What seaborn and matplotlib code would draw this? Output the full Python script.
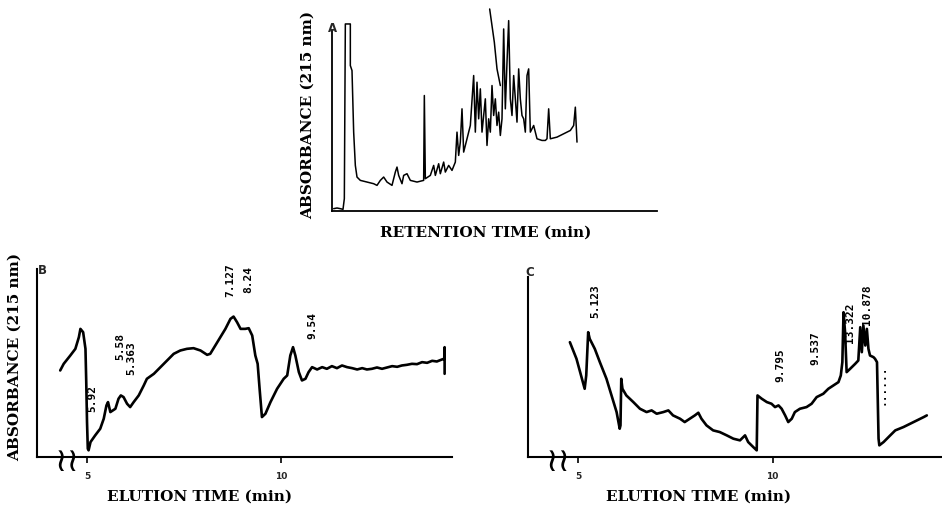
import matplotlib
matplotlib.use("Agg")
import matplotlib.pyplot as plt
import seaborn as sns
import pandas as pd

sns.set_theme(style="white")
plt.rcParams['font.family'] = ['DejaVu Serif', 'DejaVu Sans']

# ---------------- Panel A (retention time, arbitrary units) ----------------
a_x = [5, 15, 25, 33, 37, 40, 55, 55, 60, 65, 70, 75, 85, 105, 125, 135, 145, 155, 165, 180,
       190, 195, 200, 210, 215, 225, 235, 255, 275, 277, 280, 295, 305, 310, 320, 325, 335, 340,
       350, 360, 370, 375, 380, 385, 390, 395, 405, 415, 425, 430, 435, 440, 445, 450, 455, 460,
       465, 470, 475, 480, 485, 490, 495, 500, 505, 510, 515, 520, 525, 530, 535, 540, 545, 555,
       560, 565, 570, 575, 580, 585, 590, 595, 605, 615, 630, 640, 645, 650, 655, 675, 695, 715,
       725, 730, 735]
a_y = [7, 9, 7, 5, 37, 562, 562, 437, 422, 237, 137, 102, 92, 87, 82, 77, 92, 102, 87, 77,
       117, 132, 107, 82, 107, 112, 92, 87, 92, 347, 97, 107, 137, 107, 142, 112, 147, 117,
       137, 122, 147, 237, 167, 207, 307, 177, 217, 257, 407, 237, 387, 277, 367, 237, 287, 337,
       197, 277, 237, 377, 287, 337, 257, 297, 227, 277, 547, 307, 447, 572, 337, 287, 407, 267,
       427, 337, 287, 277, 237, 407, 427, 237, 257, 217, 212, 212, 217, 307, 217, 222, 232, 242,
       257, 312, 207]
a2_x = [473, 487, 495, 505]
a2_y = [607, 507, 427, 377]

# ---------------- Panel B (elution time, min) ----------------
b_t = [4.31, 4.40, 4.57, 4.70, 4.79, 4.83, 4.90, 4.96, 4.98, 5.00, 5.02, 5.04, 5.09, 5.21, 5.34,
       5.43, 5.50, 5.54, 5.60, 5.73, 5.81, 5.87, 5.94, 6.03, 6.11, 6.20, 6.33, 6.46, 6.54, 6.72,
       6.89, 7.06, 7.23, 7.40, 7.57, 7.74, 7.92, 8.09, 8.17, 8.30, 8.43, 8.56, 8.69, 8.77, 8.86,
       8.95, 9.07, 9.16, 9.25, 9.33, 9.39, 9.44, 9.50, 9.59, 9.72, 9.89, 10.06, 10.15, 10.23,
       10.30, 10.36, 10.45, 10.53, 10.62, 10.70, 10.79, 10.92, 11.05, 11.17, 11.30, 11.43, 11.56,
       11.69, 11.82, 11.95, 12.08, 12.20, 12.33, 12.46, 12.59, 12.72, 12.85, 12.98, 13.10, 13.23,
       13.36, 13.49, 13.62, 13.75, 13.88, 14.00, 14.13, 14.19, 14.20, 14.20]
b_abs = [260, 280, 305, 325, 360, 385, 375, 325, 225, 105, 25, 20, 45, 65, 85,
         115, 155, 165, 135, 145, 175, 185, 180, 160, 150, 165, 185, 215, 235, 250,
         270, 290, 310, 320, 325, 327, 320, 307, 310, 335, 360, 385, 415, 422, 405,
         385, 385, 387, 365, 305, 280, 205, 120, 130, 165, 205, 235, 245, 305,
         330, 305, 255, 230, 235, 255, 270, 263, 270, 265, 273, 267, 275,
         270, 267, 263, 267, 263, 265, 269, 265, 269, 273, 271, 275, 277,
         280, 279, 285, 283, 289, 287, 293, 295, 330, 250]
b_labels = ["5.92", "5.58", "5.363", "7.127", "8.24", "9.54"]
b_label_t = [5.13, 5.86, 6.15, 8.69, 9.16, 10.79]
b_label_y = [180, 335, 300, 533, 535, 398]

# ---------------- Panel C (elution time, min) ----------------
c_t = [4.79, 4.96, 5.17, 5.21, 5.26, 5.30, 5.43, 5.56, 5.73, 5.86, 5.99, 6.07, 6.09, 6.11, 6.14,
       6.24, 6.42, 6.59, 6.76, 6.89, 7.02, 7.19, 7.32, 7.44, 7.62, 7.74, 7.87, 8.00, 8.09, 8.17,
       8.30, 8.47, 8.64, 8.82, 8.99, 9.16, 9.29, 9.37, 9.50, 9.59, 9.61, 9.72, 9.85, 9.97, 10.06,
       10.15, 10.23, 10.32, 10.40, 10.49, 10.57, 10.70, 10.87, 11.00, 11.13, 11.30, 11.43, 11.56,
       11.69, 11.75, 11.79, 11.82, 11.86, 11.90, 11.99, 12.12, 12.20, 12.25, 12.29, 12.33, 12.38,
       12.42, 12.46, 12.50, 12.59, 12.63, 12.68, 12.72, 12.74, 12.85, 13.02, 13.15, 13.36, 13.62,
       13.88, 13.96]
c_abs = [345, 295, 205, 245, 375, 355, 325, 285, 235, 185, 135, 85, 95, 235, 205,
         185, 165, 145, 135, 140, 130, 135, 140, 125, 115, 105, 115, 125, 133, 115,
         95, 80, 75, 65, 55, 50, 65, 45, 30, 20, 185, 175, 165, 160, 150,
         155, 145, 125, 105, 115, 135, 145, 150, 160, 180, 190, 205, 215,
         225, 245, 285, 435, 375, 255, 265, 280, 290, 390, 315, 395, 335,
         385, 325, 305, 300, 295, 285, 55, 35, 45, 65, 80, 90, 105,
         120, 125]
c_labels = ["5.123", "9.795", "9.537", "13.322", "10.878", "......"]
c_label_t = [5.45, 10.19, 11.09, 11.99, 12.42, 12.80]
c_label_y = [470, 280, 330, 405, 460, 220]

ticks = [5, 10]
tick_labels = ["5", "10"]

W, H = 942, 510
fig = plt.figure(figsize=(W / 100, H / 100), dpi=100)


def rect(l, r, t, b):
    return [l / W, 1 - b / H, (r - l) / W, (b - t) / H]


def fx(x, y):
    return x / W, 1 - y / H


label_font = dict(family='DejaVu Serif', fontweight='bold', fontsize=11, color='black')
peak_font = dict(family='DejaVu Sans Mono', fontweight='bold', fontsize=8, color='black')

# Panel A
axA = fig.add_axes(rect(332, 657, 0, 212))
sns.lineplot(x=a_x, y=a_y, ax=axA, sort=False, estimator=None, color='black', lw=1.1)
sns.lineplot(x=a2_x, y=a2_y, ax=axA, sort=False, estimator=None, color='black', lw=1.1)
axA.set_xlim(0, 975)
axA.set_ylim(0, 637)
for s in ['top', 'right']:
    axA.spines[s].set_visible(False)
axA.spines['left'].set_bounds(0, 545)
for s in ['left', 'bottom']:
    axA.spines[s].set_color('black')
    axA.spines[s].set_linewidth(1.3)
axA.set_xticks([])
axA.set_yticks([])
fig.text(*fx(332, 28), "A", ha='center', va='center', family='DejaVu Sans',
         fontweight='bold', fontsize=8.5)
fig.text(*fx(308, 115), "ABSORBANCE (215 nm)", rotation=90, ha='center', va='center', **label_font)
fig.text(*fx(486, 233), "RETENTION TIME (min)", ha='center', va='center', **label_font)


def setup_panel(ax, xlim, ytop, spine_top):
    ax.set_xlim(*xlim)
    ax.set_ylim(0, ytop)
    for s in ['top', 'right']:
        ax.spines[s].set_visible(False)
    for s in ['left', 'bottom']:
        ax.spines[s].set_color('black')
        ax.spines[s].set_linewidth(1.5)
    ax.spines['left'].set_bounds(0, spine_top)
    ax.set_yticks([])
    ax.set_xticks(ticks)
    ax.set_xticklabels(tick_labels, family='DejaVu Sans', fontweight='bold', fontsize=6.5)
    ax.tick_params(axis='x', bottom=True, direction='out', length=4, width=1.2,
                   color='black', pad=6)
    ax.set_xlabel("")
    ax.set_ylabel("")


# Panel B
axB = fig.add_axes(rect(37, 452, 250, 458))
sns.lineplot(x=b_t, y=b_abs, ax=axB, sort=False, estimator=None, color='black', lw=1.9)
setup_panel(axB, (3.713, 14.39), 625, 565)
for lab, t, y in zip(b_labels, b_label_t, b_label_y):
    axB.text(t, y, lab, rotation=90, ha='center', va='center', **peak_font)
axB.text(4.5, -10, "\u2240\u2240", ha='center', va='center', fontsize=24,
         family='DejaVu Sans', color='black')
fig.text(*fx(42, 270), "B", ha='center', va='center', family='DejaVu Sans',
         fontweight='bold', fontsize=8.5)
fig.text(*fx(15, 357), "ABSORBANCE (215 nm)", rotation=90, ha='center', va='center', **label_font)
fig.text(*fx(200, 497), "ELUTION TIME (min)", ha='center', va='center', **label_font)

# Panel C
axC = fig.add_axes(rect(528, 942, 250, 458))
sns.lineplot(x=c_t, y=c_abs, ax=axC, sort=False, estimator=None, color='black', lw=1.9)
setup_panel(axC, (3.714, 14.35), 625, 540)
for lab, t, y in zip(c_labels, c_label_t, c_label_y):
    axC.text(t, y, lab, rotation=90, ha='center', va='center', **peak_font)
axC.text(4.48, -10, "\u2240\u2240", ha='center', va='center', fontsize=24,
         family='DejaVu Sans', color='black')
fig.text(*fx(530, 272), "C", ha='center', va='center', family='DejaVu Sans',
         fontweight='bold', fontsize=8.5)
fig.text(*fx(699, 497), "ELUTION TIME (min)", ha='center', va='center', **label_font)

fig.savefig("out.png", dpi=100, facecolor='white')
